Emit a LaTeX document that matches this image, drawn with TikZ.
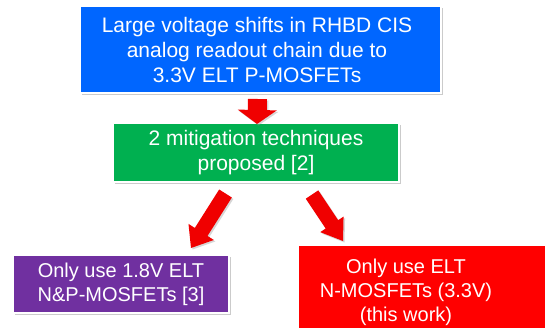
\documentclass[tikz,border=0pt]{standalone}
\usepackage{fontspec}
\setmainfont{Liberation Sans}
\usetikzlibrary{calc,shadows}
\definecolor{boxblue}{RGB}{0,102,255}
\definecolor{boxgreen}{RGB}{0,176,80}
\definecolor{boxpurple}{RGB}{112,48,160}
\definecolor{boxred}{RGB}{255,0,0}
\definecolor{arrred}{RGB}{240,0,0}
\newcommand\blkarrow[5]{%
  \coordinate (#2b) at ($(#2)!#5!(#1)$);
  \path[blk] ($(#1)!#3!90:(#2)$) -- ($(#2b)!#3!90:(#2)$) -- ($(#2b)!#4!90:(#2)$)
    -- (#2) -- ($(#2b)!#4!-90:(#2)$) -- ($(#2b)!#3!-90:(#2)$)
    -- ($(#1)!#3!-90:(#2)$) -- cycle;
}
\begin{document}
\begin{tikzpicture}[x=1pt,y=-1pt,
  box/.style={draw=white, line width=2pt, inner sep=0pt,
    drop shadow={shadow xshift=2pt, shadow yshift=-2pt, fill=black!40, opacity=0.5}},
  lbl/.style={text=white, align=center, inner sep=0pt},
  bigtxt/.style={font=\fontsize{21}{25}\selectfont},
  smalltxt/.style={font=\fontsize{20}{24}\selectfont},
  blk/.style={fill=arrred, draw=none,
    drop shadow={shadow xshift=1.5pt, shadow yshift=-1.5pt, fill=black!40, opacity=0.4}}]
\useasboundingbox (0,0) rectangle (545,328);
\fill[white] (0,0) rectangle (545,328);

\node[box, fill=boxblue, minimum width=361pt, minimum height=87pt] (blue) at (260.5,49.5) {};
\node[lbl, bigtxt] (bluetxt) at (257,49.5) {Large voltage shifts in RHBD CIS\\analog readout chain due to\\3.3V ELT P-MOSFETs};

\node[box, fill=boxgreen, minimum width=286pt, minimum height=59pt] (green) at (256,152.5) {};
\node[lbl, bigtxt] (greentxt) at (256,152.5) {2 mitigation techniques\\proposed [2]};

\node[box, fill=boxpurple, minimum width=216pt, minimum height=58pt] (purple) at (121,284) {};
\node[lbl, smalltxt] (purpletxt) at (121,284) {Only use 1.8V ELT\\N\&P-MOSFETs [3]};

\node[box, fill=boxred, minimum width=263pt, minimum height=96pt, anchor=north west] (red) at (297,244) {};
\node[lbl, smalltxt] (redtxt) at (406,292) {Only use ELT\\N-MOSFETs (3.3V)\\(this work)};

\coordinate (t0) at (257.5,99);
\coordinate (h0) at (257,124);
\blkarrow{t0}{h0}{9.5pt}{19.5pt}{14pt}
\coordinate (t1) at (225.5,193.5);
\coordinate (h1) at (191,248);
\blkarrow{t1}{h1}{7.5pt}{15pt}{19pt}
\coordinate (t2) at (312,194.5);
\coordinate (h2) at (343,241);
\blkarrow{t2}{h2}{7.5pt}{14pt}{20pt}
\end{tikzpicture}
\end{document}
